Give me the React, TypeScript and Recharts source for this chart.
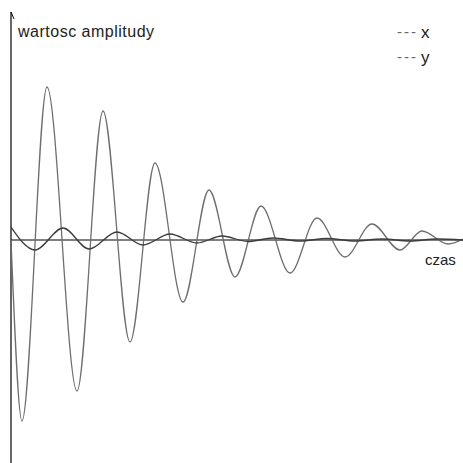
import { LineChart, Line, XAxis, YAxis, ReferenceLine } from 'recharts'

// time samples (s) and amplitudes at the turning points of each signal
const yTime = [0, 0.11, 0.36, 0.66, 0.92, 1.19, 1.44, 1.72, 1.98, 2.24, 2.5, 2.79, 3.06, 3.34, 3.61, 3.89, 4.11, 4.37, 4.52]
const yAmp = [0, -1.81, 1.53, -1.51, 1.29, -1.02, 0.77, -0.62, 0.5, -0.37, 0.34, -0.33, 0.22, -0.17, 0.16, -0.1, 0.09, -0.04, 0.01]

const xTime = [0, 0.24, 0.52, 0.78, 1.06, 1.32, 1.59, 1.86, 2.11, 2.37, 2.62, 2.89, 3.16, 3.44, 3.71, 3.99, 4.26, 4.52]
const xAmp = [0.13, -0.1, 0.12, -0.09, 0.08, -0.05, 0.06, -0.03, 0.04, -0.015, 0.02, -0.01, 0.015, -0.01, 0.01, -0.01, 0.01, 0]

const ySeries = yTime.map((t, i) => ({ t, v: yAmp[i] }))
const xSeries = xTime.map((t, i) => ({ t, v: xAmp[i] }))

const FONT = '"Liberation Sans", Arial, sans-serif'

export default function App() {
  return (
    <div style={{ position: 'absolute', left: 0, top: 0, width: 463, height: 463, background: '#fff' }}>
      <LineChart width={463} height={463} margin={{ top: 12, right: 0, bottom: 0, left: 11 }}>
        <XAxis type="number" dataKey="t" domain={[0, 4.52]} hide allowDataOverflow />
        <YAxis type="number" domain={[-2.23, 2.28]} hide allowDataOverflow />
        {/* axes drawn through the origin */}
        <ReferenceLine x={0} stroke="#000" strokeWidth={1.2} />
        <ReferenceLine y={0} stroke="#000" strokeWidth={1.2} />
        <Line
          data={ySeries}
          dataKey="v"
          type="monotone"
          stroke="#6e6e6e"
          strokeWidth={1.3}
          dot={false}
          isAnimationActive={false}
        />
        <Line
          data={xSeries}
          dataKey="v"
          type="monotone"
          stroke="#3c3c3c"
          strokeWidth={1.3}
          dot={false}
          isAnimationActive={false}
        />
        <line x1={11} y1={12} x2={14} y2={19} stroke="#000" strokeWidth={1} />
        <text x={18} y={37} fontFamily={FONT} fontSize={16} letterSpacing={0.5} fill="#222">wartosc amplitudy</text>
        <text x={425} y={265} fontFamily={FONT} fontSize={15} fill="#222">czas</text>
        <text x={397} y={37} fontFamily={FONT} fontSize={15} fill="#666" letterSpacing={2}>---</text>
        <text x={421} y={38} fontFamily={FONT} fontSize={17} fill="#222">x</text>
        <text x={397} y={62} fontFamily={FONT} fontSize={15} fill="#666" letterSpacing={2}>---</text>
        <text x={421} y={63} fontFamily={FONT} fontSize={17} fill="#222">y</text>
      </LineChart>
    </div>
  )
}
